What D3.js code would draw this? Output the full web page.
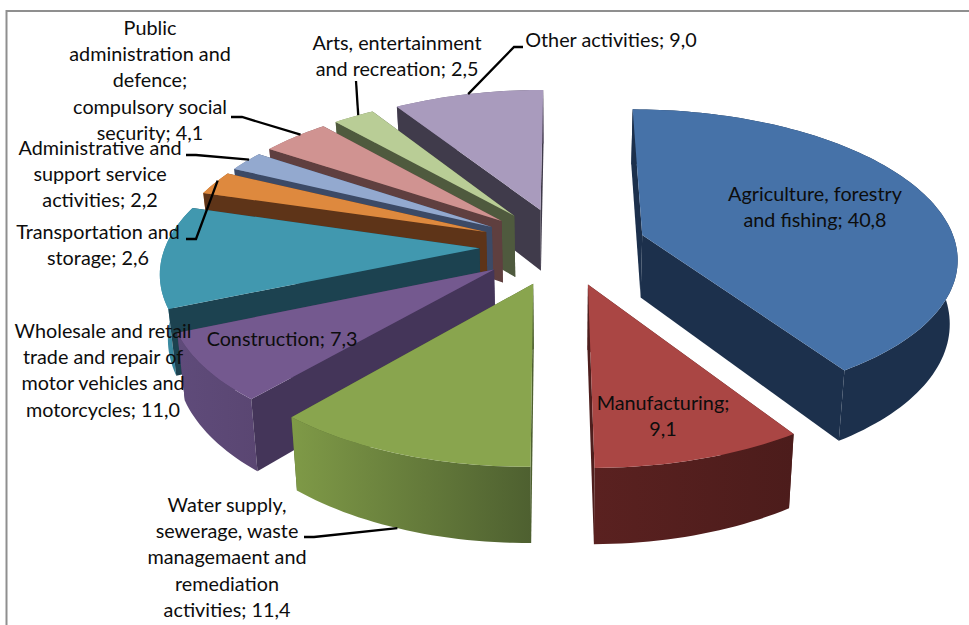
<!DOCTYPE html>
<html>
<head>
<meta charset="utf-8">
<script src="https://cdnjs.cloudflare.com/ajax/libs/d3/7.8.5/d3.min.js"></script>
<style>
html,body{margin:0;padding:0;background:#fff;}
svg{display:block;}
text{font-family:"Lato","Liberation Sans",sans-serif;font-size:19.8px;fill:#0d0d0d;text-anchor:middle;}
</style>
</head>
<body>
<svg id="c" width="969" height="625"></svg>
<script>
// ---- data ----
const categories = [
  "Agriculture, forestry and fishing", "Manufacturing",
  "Water supply, sewerage, waste managemaent and remediation activities",
  "Construction", "Wholesale and retail trade and repair of motor vehicles and motorcycles",
  "Transportation and storage", "Administrative and support service activities",
  "Public administration and defence; compulsory social security",
  "Arts, entertainment and recreation", "Other activities"
];
const values = [40.8, 9.1, 11.4, 7.3, 11.0, 2.6, 2.2, 4.1, 2.5, 9.0];
const valueLabels = ["40,8","9,1","11,4","7,3","11,0","2,6","2,2","4,1","2,5","9,0"];

// ---- style ----
const topColors  = ["#4672a8","#aa4644","#89a54e","#74598f","#4198af","#de893e","#93a9cf","#d09391","#b9cd96","#a99bbd"];
const cutColors  = ["#1c304c","#4e1e1d","#4e6030","#443559","#1c4250","#5e3418","#3c4a66","#5f3f3f","#4f5a3e","#403b4b"];
const wallLeft   = ["#1c304c","#5a2120","#7f9a47","#5f4b7a","#3f93ab","#c97a36","#7f93b6","#a87574","#93a577","#857a96"];
const wallRight  = ["#1c304c","#4c1c1b","#4e6030","#5a4672","#2a6a7c","#8a5226","#4c5d80","#7d5554","#65734f","#5a5166"];

// ---- label layout ----
const labelLines = [
  ["Agriculture, forestry","and fishing; 40,8"],
  ["Manufacturing;","9,1"],
  ["Water supply,","sewerage, waste","managemaent and","remediation","activities; 11,4"],
  ["Construction; 7,3"],
  ["Wholesale and retail","trade and repair of","motor vehicles and","motorcycles; 11,0"],
  ["Transportation and","storage; 2,6"],
  ["Administrative and","support service","activities; 2,2"],
  ["Public","administration and","defence;","compulsory social","security; 4,1"],
  ["Arts, entertainment","and recreation; 2,5"],
  ["Other activities; 9,0"]
];
const labelCenterX = [815, 663, 227, 282, 103, 98, 100, 150, 397, 611];
const labelFirstY  = [195, 404, 506, 340, 332, 233, 149, 29, 44, 41];
const lineStep = 26.2;
// leader: label-side start and elbow; the other end comes from the slice rim
const leaders = {
  2:{from:[304,537],elbow:[314,537],wall:true, f:0.52},
  5:{from:[186,239],elbow:[196,239],f:0.62},
  6:{from:[186,155],elbow:[196,155],f:0.62},
  7:{from:[231,117],elbow:[242,117],f:0.6},
  8:{from:[356,81],elbow:[356,81],f:0.62},
  9:{from:[523,47],elbow:[514,47],f:0.5}
};

// ---- geometry ----
const cx=563, cy=246, Rx=314, Ry=146, k=0.139, explode=0.266, depth=63, bottomShrink=0.98;
const sx=d3.scaleLinear().domain([-1,1]).range([cx-Rx,cx+Rx]);
const sy=d3.scaleLinear().domain([-1,1]).range([cy-Ry,cy+Ry]);

function project(u,v,lower){
  const s=1/(1-k*v);
  let x=cx+(sx(u)-cx)*s, y=cy+(sy(v)-cy)*s;
  if(lower){ x=cx+(x-cx)*bottomShrink; y+=depth*s; }
  return [x,y];
}
const pie=d3.pie().sort(null).value(d=>d)(values);
const line=d3.line().curve(d3.curveLinear);
const svg=d3.select("#c");
const defs=svg.append("defs");

// frame
svg.append("rect").attr("x",6.5).attr("y",11).attr("width",1100).attr("height",800)
  .attr("fill","#fff").attr("stroke","#8f8f8f").attr("stroke-width",2);

function sliceGeom(d){
  const mid=(d.startAngle+d.endAngle)/2;
  const ou=explode*Math.sin(mid), ov=-explode*Math.cos(mid);
  const n=Math.max(6,Math.ceil((d.endAngle-d.startAngle)*40));
  const angles=d3.range(n+1).map(i=>d.startAngle+(d.endAngle-d.startAngle)*i/n);
  const rim=(a,low)=>project(ou+Math.sin(a),ov-Math.cos(a),low);
  return {mid,ou,ov,angles,rim,
    apexT:project(ou,ov,false),apexB:project(ou,ov,true)};
}

const order=pie.map((d,i)=>({d,i})).sort((a,b)=>
  (-Math.cos((a.d.startAngle+a.d.endAngle)/2))-(-Math.cos((b.d.startAngle+b.d.endAngle)/2)));

order.forEach(({d,i})=>{
  const g=sliceGeom(d);
  const top=g.angles.map(a=>g.rim(a,false));
  const bot=g.angles.map(a=>g.rim(a,true));
  const xs=top.concat(bot).map(p=>p[0]);
  const grad=defs.append("linearGradient").attr("id","w"+i).attr("gradientUnits","userSpaceOnUse")
    .attr("x1",d3.min(xs)).attr("x2",d3.max(xs)).attr("y1",0).attr("y2",0);
  grad.append("stop").attr("offset",0).attr("stop-color",wallLeft[i]);
  grad.append("stop").attr("offset",1).attr("stop-color",wallRight[i]);

  const sg=svg.append("g").attr("class","slice");
  const quad=(pts,fill)=>sg.append("path").attr("d",line(pts)+"Z").attr("fill",fill);
  const startCut=[g.apexT,top[0],bot[0],g.apexB];
  const endCut=[g.apexT,top[top.length-1],bot[bot.length-1],g.apexB];
  const startVisible=Math.sin(d.startAngle)<-1e-6;
  const endVisible=Math.sin(d.endAngle)>1e-6;
  // back-facing cut walls, then outer wall, then cut walls facing the viewer, then top
  if(!startVisible) quad(startCut,cutColors[i]);
  if(!endVisible) quad(endCut,cutColors[i]);
  quad(top.concat(bot.slice().reverse()),"url(#w"+i+")");
  if(startVisible) quad(startCut,cutColors[i]);
  if(endVisible) quad(endCut,cutColors[i]);
  quad([g.apexT].concat(top),topColors[i]);
});

// leader lines
Object.keys(leaders).forEach(key=>{
  const i=+key, L=leaders[i], d=pie[i], g=sliceGeom(d);
  const a=d.startAngle+(d.endAngle-d.startAngle)*L.f;
  const end=g.rim(a,!!L.wall);
  svg.append("path").attr("d",line([L.from,L.elbow,end]))
    .attr("fill","none").attr("stroke","#000").attr("stroke-width",2.3);
});

// labels
labelLines.forEach((lines,i)=>{
  const t=svg.append("text").attr("x",labelCenterX[i]);
  lines.forEach((s,j)=>{
    t.append("tspan").attr("x",labelCenterX[i]).attr("y",labelFirstY[i]+6+j*lineStep).text(s);
  });
});
</script>
</body>
</html>
